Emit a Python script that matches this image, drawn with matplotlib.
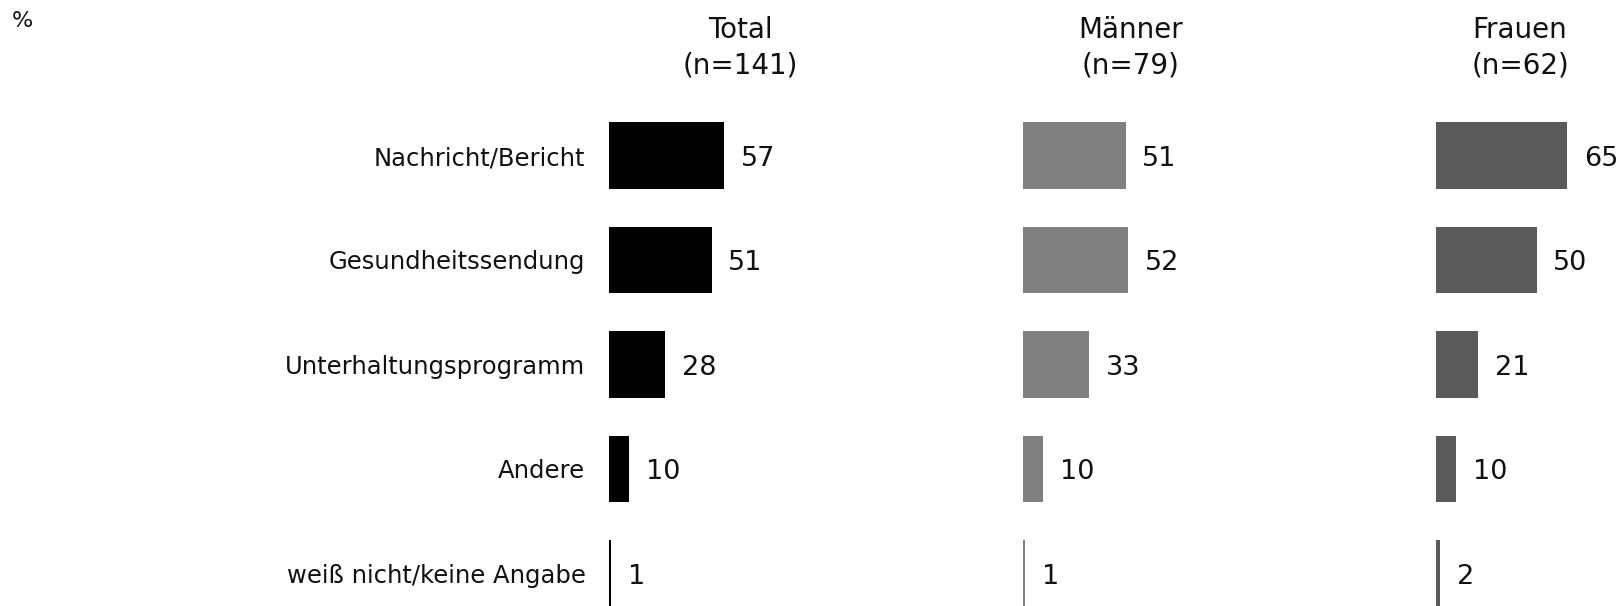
import matplotlib
matplotlib.use("Agg")
import matplotlib.pyplot as plt

categories = ["Nachricht/Bericht", "Gesundheitssendung", "Unterhaltungsprogramm",
              "Andere", "weiß nicht/keine Angabe"]
groups = ["Total\n(n=141)", "Männer\n(n=79)", "Frauen\n(n=62)"]
total = [57, 51, 28, 10, 1]
maenner = [51, 52, 33, 10, 1]
frauen = [65, 50, 21, 10, 2]
series = [total, maenner, frauen]
colors = ["#000000", "#808080", "#5a5a5a"]

plt.rcParams['font.family'] = ['DejaVu Sans']

W, H = 1623, 606
fig = plt.figure(figsize=(W / 100, H / 100), dpi=100)

px_per_unit = 2.015
row_pitch = 104.5
first_center = 155.5
top_px = first_center - 0.5 * row_pitch
ylim_bottom = -0.5 + (H - top_px) / row_pitch
xmax = 80
left_px = [609, 1023, 1436]
title_x = [740, 1131, 1520]

for i, (vals, col) in enumerate(zip(series, colors)):
    ax = fig.add_axes([left_px[i] / W, 0, xmax * px_per_unit / W, (H - top_px) / H])
    ypos = list(range(len(categories)))
    ax.barh(ypos, vals, height=0.64, color=col, left=0)
    ax.set_xlim(0, xmax)
    ax.set_ylim(ylim_bottom, -0.5)
    for y, v in zip(ypos, vals):
        ax.annotate(str(v), xy=(v, y), xytext=(12, -2.5), textcoords="offset points",
                    ha="left", va="center", fontsize=19.5, color="#111111")
    for s in ax.spines.values():
        s.set_visible(False)
    ax.set_xticks([])
    if i == 0:
        ax.set_yticks(ypos)
        ax.set_yticklabels(categories, fontsize=17.5, color="#111111")
        ax.tick_params(axis="y", length=0, pad=17)
    else:
        ax.set_yticks([])
    fig.text(title_x[i] / W, 1 - 48 / H, groups[i], ha="center", va="center",
             fontsize=20, color="#111111", linespacing=1.35, multialignment="center")

fig.text(12 / W, 1 - 21 / H, "%", ha="left", va="center", fontsize=16, color="#111111")

fig.savefig("out.png", dpi=100)
